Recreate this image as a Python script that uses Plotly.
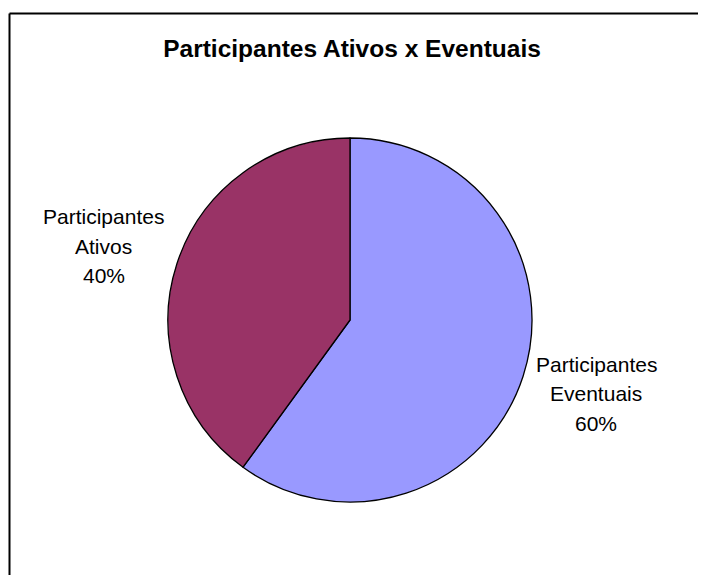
import numpy as np
import plotly.graph_objects as go

labels = ["Participantes Eventuais", "Participantes Ativos"]
label_lines = [["Participantes", "Eventuais"], ["Participantes", "Ativos"]]
values = [60, 40]
colors = ["#9999FF", "#993366"]
title = "Participantes Ativos x Eventuais"

OFF = 8  # page body margin
W, H = 706 - OFF, 575 - OFF
cx, cy, R = 350 - OFF, 320 - OFF, 182

fig = go.Figure(go.Pie(
    labels=labels,
    values=values,
    sort=False,
    direction="clockwise",
    rotation=0,
    marker=dict(colors=colors, line=dict(color="black", width=1.3)),
    textinfo="none",
    hoverinfo="label+percent",
    showlegend=False,
    domain=dict(x=[(cx - R) / W, (cx + R) / W], y=[(H - cy - R) / H, (H - cy + R) / H]),
))

# label positions from slice midpoints
vals = np.array(values, dtype=float)
fr = vals / vals.sum()
cum = np.cumsum(fr) - fr / 2
rx, ry = 259, 238
line_gap = 29.5
for i, f in enumerate(cum):
    ang = 2 * np.pi * f
    lx = cx + rx * np.sin(ang)
    ly = cy - ry * np.cos(ang)
    lines = label_lines[i] + [f"{round(fr[i] * 100):.0f}%"]
    for j, t in enumerate(lines):
        yy = ly + (j - 1) * line_gap
        fig.add_annotation(
            x=lx / W, y=1 - yy / H, xref="paper", yref="paper",
            text=t, showarrow=False, xanchor="center", yanchor="middle",
            font=dict(family="Arial, Liberation Sans, sans-serif", size=21, color="black"),
        )

# chart-area frame: only top and left edges are visible in the reference
top_y = 1 - (13.5 - OFF) / H
left_x = (9.5 - OFF) / W
fig.add_shape(type="line", xref="paper", yref="paper",
              x0=left_x, x1=1.2, y0=top_y, y1=top_y,
              line=dict(color="black", width=2))
fig.add_shape(type="line", xref="paper", yref="paper",
              x0=left_x, x1=left_x, y0=top_y, y1=-0.2,
              line=dict(color="black", width=2))

fig.update_layout(
    width=W, height=H,
    margin=dict(l=0, r=0, t=0, b=0),
    paper_bgcolor="white", plot_bgcolor="white",
    title=dict(text=f"<b>{title}</b>", x=(352 - OFF) / W, xanchor="center",
               y=1 - (48 - OFF) / H, yanchor="middle", yref="paper",
               font=dict(family="Arial, Liberation Sans, sans-serif", size=24.5, color="black")),
)

fig.write_html("out.html")
